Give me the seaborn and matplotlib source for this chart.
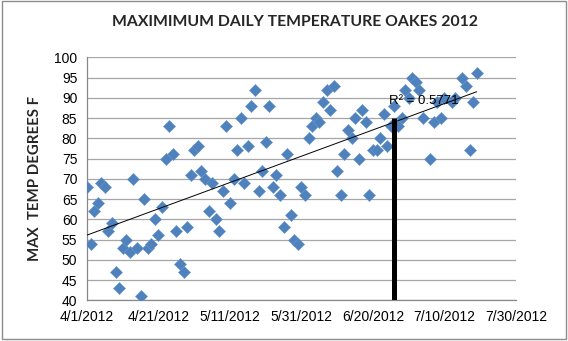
import numpy as np
import pandas as pd
import matplotlib
matplotlib.use("Agg")
import matplotlib.pyplot as plt
import matplotlib.dates as mdates
from matplotlib.patches import Rectangle
import seaborn as sns

# Daily maximum temperature readings (°F), keyed by day offset from 1 April 2012
day_offset = [
    0, 1, 2, 3, 4, 5, 6, 7, 8, 9, 10, 11, 12, 13, 14, 15, 16, 17, 18, 19,
    20, 21, 22, 23, 24, 25, 26, 27, 28, 29, 30, 31, 32, 33, 34, 35, 36, 37, 38, 39,
    40, 41, 42, 43, 44, 45, 46, 47, 48, 49, 50, 51, 52, 53, 54, 55, 56, 57, 58, 59,
    60, 61, 62, 63, 64, 65, 66, 67, 68, 69, 70, 71, 72, 73, 74, 75, 76, 77, 78, 79,
    80, 81, 82, 83, 84, 85, 86, 87, 88, 89, 90, 91, 92, 93, 94, 96, 97, 98, 99, 100,
    102, 103, 105, 106, 107, 108, 109,
]
max_temp = [
    68, 54, 62, 64, 69, 68, 57, 59, 47, 43, 53, 55, 52, 70, 53, 41, 65, 53, 54, 60,
    56, 63, 75, 83, 76, 57, 49, 47, 58, 71, 77, 78, 72, 70, 62, 69, 60, 57, 67, 83,
    64, 70, 77, 85, 69, 78, 88, 92, 67, 72, 79, 88, 68, 71, 66, 58, 76, 61, 55, 54,
    68, 66, 80, 83, 85, 84, 89, 92, 87, 93, 72, 66, 76, 82, 80, 85, 75, 87, 84, 66,
    77, 77, 80, 86, 78, 83, 88, 83, 85, 92, 90, 95, 94, 92, 85, 75, 84, 89, 85, 90,
    89, 90, 95, 93, 77, 89, 96,
]

# Highlighted date and the temperature it reaches
marker_date = "2012-06-26"
marker_temp = 85

r_squared_label = "R² = 0.5771"
x_tick_dates = ["2012-04-01", "2012-04-21", "2012-05-11", "2012-05-31",
                "2012-06-20", "2012-07-10", "2012-07-30"]
y_ticks = list(range(40, 101, 5))

start = pd.Timestamp("2012-04-01")
dates = [start + pd.Timedelta(days=d) for d in day_offset]
df = pd.DataFrame({"x": mdates.date2num(dates), "temp": max_temp})

sns.set_theme(style="white")
plt.rcParams["font.family"] = ["Lato", "DejaVu Sans"]

fig = plt.figure(figsize=(5.68, 3.41), dpi=100)
ax = fig.add_axes([87 / 568, 40.7 / 341, (516 - 87) / 568, (300.3 - 57.3) / 341])

blue = "#4F81BD"
sns.scatterplot(data=df, x="x", y="temp", marker="D", s=38, color=blue,
                edgecolor="#6A95C8", linewidth=0.4, ax=ax, zorder=3)

# Linear trend over the span of the readings
sns.regplot(data=df, x="x", y="temp", scatter=False, ci=None, truncate=True,
            line_kws={"color": "black", "lw": 0.7, "zorder": 4}, ax=ax)

# Vertical marker bar
mx = mdates.date2num(pd.Timestamp(marker_date))
ax.vlines(mx, 40, marker_temp, color="black", lw=3.6, zorder=5)

ax.text(mdates.date2num(pd.Timestamp("2012-06-24 12:00")), 89.3, r_squared_label,
        fontsize=9.5, va="center", ha="left", color="black", zorder=6,
        family=["Liberation Sans", "DejaVu Sans"])

xt = mdates.date2num(pd.to_datetime(x_tick_dates))
ax.set_xlim(xt[0], xt[-1])
ax.set_xticks(xt)
ax.set_xticklabels([f"{d.month}/{d.day}/{d.year}" for d in pd.to_datetime(x_tick_dates)])
ax.set_ylim(40, 100)
ax.set_yticks(y_ticks)

ax.grid(axis="y", color="#A6A6A6", lw=0.9)
ax.grid(axis="x", visible=False)
ax.set_axisbelow(True)
for side in ["top", "right"]:
    ax.spines[side].set_visible(False)
for side in ["left", "bottom"]:
    ax.spines[side].set_color("#888888")
    ax.spines[side].set_linewidth(0.9)

ax.tick_params(axis="both", which="major", labelsize=10, colors="black",
               length=4, width=0.9, direction="out", color="#888888", pad=3)
for lbl in ax.get_xticklabels() + ax.get_yticklabels():
    lbl.set_family(["Liberation Sans", "DejaVu Sans"])
ax.set_xlabel("")
ax.set_ylabel("MAX  TEMP DEGREES F", fontsize=10.8, fontweight="bold", labelpad=9)

fig.text(295 / 568, 1 - 22 / 341, "MAXIMIMUM DAILY TEMPERATURE OAKES 2012",
         ha="center", va="center", fontsize=11.3, fontweight="bold")

# Chart frame
fig.patches.append(Rectangle((0.004, 0.006), 0.992, 0.99, transform=fig.transFigure,
                             fill=False, edgecolor="#8C8C8C", lw=1.0))

fig.savefig("out.png", dpi=100)
